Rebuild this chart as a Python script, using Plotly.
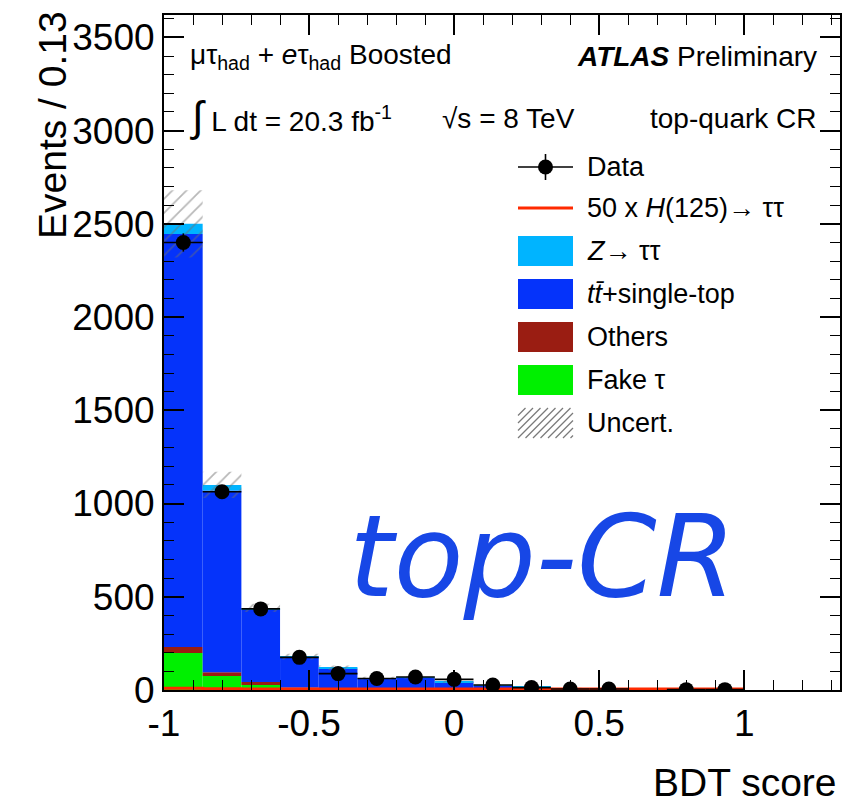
import numpy as np
import plotly.graph_objects as go

# ---------------- data ----------------
bin_edges = [-1.0, -0.8667, -0.7333, -0.6, -0.4667, -0.3333, -0.2, -0.0667,
             0.0667, 0.2, 0.3333, 0.4667, 0.6, 0.7333, 0.8667, 1.0]
fake = [199, 75, 27, 5, 3, 2, 2, 1, 1, 1, 0, 0, 0, 0, 0]
others = [32, 20, 16, 8, 6, 5, 5, 4, 3, 3, 2, 2, 1, 1, 1]
ttbar = [2215, 975, 390, 160, 105, 52, 58, 36, 18, 11, 6, 3, 2, 1, 1]
ztautau = [54, 30, 7, 6, 5, 4, 4, 4, 4, 2, 2, 1, 1, 0, 0]
signal50 = [9, 7, 6, 5, 5, 5, 5, 5, 5, 5, 5, 5, 5, 5, 5]
data = [2400, 1063, 435, 175, 88, 62, 70, 57, 27, 13, 5, 5, None, 2, 2]
uncert = [180, 70, 22, 15, 12, 8, 8, 6, 4, 3, 2, 2, 1, 1, 1]

x_tickvals = [-1, -0.5, 0, 0.5, 1]
x_ticktext = ["-1", "-0.5", "0", "0.5", "1"]
y_tickvals = [0, 500, 1000, 1500, 2000, 2500, 3000, 3500]
y_ticktext = ["0", "500", "1000", "1500", "2000", "2500", "3000", "3500"]

# ---------------- derived ----------------
edges = np.array(bin_edges)
centers = 0.5 * (edges[:-1] + edges[1:])
widths = edges[1:] - edges[:-1]
halfw = widths / 2
f = np.array(fake, float)
o = np.array(others, float)
t = np.array(ttbar, float)
z = np.array(ztautau, float)
total = f + o + t + z
unc = np.array(uncert, float)
d = np.array([np.nan if v is None else v for v in data], float)

FONT = "Liberation Sans, Arial, Helvetica, sans-serif"
C_Z = "#00B4FF"
C_TT = "#0533FA"
C_OTH = "#9A1D12"
C_FAKE = "#00F000"
C_SIG = "#FF2A00"

fig = go.Figure()

def add_bar(vals, base, color):
    fig.add_trace(go.Bar(x=centers, y=vals, base=base, width=widths,
                         marker=dict(color=color, line=dict(width=0)),
                         showlegend=False, hoverinfo="skip"))

add_bar(f, np.zeros_like(f), C_FAKE)
add_bar(o, f, C_OTH)
add_bar(t, f + o, C_TT)
add_bar(z, f + o + t, C_Z)

# uncertainty band (hatched)
fig.add_trace(go.Bar(x=centers, y=2 * unc, base=total - unc, width=widths,
                     marker=dict(color="rgba(0,0,0,0)", line=dict(width=0),
                                 pattern=dict(shape="/", fgcolor="#6f6f6f",
                                              bgcolor="rgba(0,0,0,0)",
                                              size=10, solidity=0.17,
                                              fillmode="overlay")),
                     showlegend=False, hoverinfo="skip"))

# signal x50 as step line
sx = list(edges)
sy = list(signal50) + [signal50[-1]]
fig.add_trace(go.Scatter(x=sx, y=sy, mode="lines", line=dict(color=C_SIG, width=3, shape="hv"),
                         showlegend=False, hoverinfo="skip"))

# data
fig.add_trace(go.Scatter(x=centers, y=d, mode="markers",
                         marker=dict(color="black", size=15),
                         error_x=dict(type="data", array=halfw, color="black", thickness=1.6, width=0),
                         error_y=dict(type="data", array=np.sqrt(np.nan_to_num(d)), color="black",
                                      thickness=1.6, width=0),
                         showlegend=False, hoverinfo="skip"))

L, R, T, B = 164, 24, 15, 118
W, H = 864, 808
PW, PH = W - L - R, H - T - B

def px(x):
    return (x - L) / PW

def py(y):
    return (H - B - y) / PH

ann = []
def text(x, y, s, size, xanchor="left", yanchor="middle", color="black", **kw):
    ann.append(dict(x=px(x), y=py(y), xref="paper", yref="paper", text=s, showarrow=False,
                    xanchor=xanchor, yanchor=yanchor,
                    font=dict(family=FONT, size=size, color=color), **kw))

text(188, 57, "μτ<sub>had</sub> + <i>e</i>τ<sub>had</sub> Boosted", 28)
text(819, 57, "<b><i>ATLAS</i></b> Preliminary", 28, xanchor="right")
text(188, 116, "<span style='font-size:42px'>∫</span> L dt = 20.3 fb<sup>-1</sup>", 28)
text(440, 118, "√s = 8 TeV", 28)
text(819, 118, "top-quark CR", 28, xanchor="right")

# legend
leg_y = [167, 208, 251, 294, 337, 380, 423]
leg_txt = ["Data", "50 x <i>H</i>(125)→ ττ", "<i>Z</i>→ ττ", "<i>tt̄</i>+single-top",
           "Others", "Fake τ", "Uncert."]
for yy, s in zip(leg_y, leg_txt):
    text(585, yy, s, 27)

shapes = []
bx0, bx1 = px(518), px(573)
hh = 15 / PH
# data symbol
shapes.append(dict(type="line", xref="paper", yref="paper", x0=bx0, x1=bx1, y0=py(167), y1=py(167),
                   line=dict(color="black", width=1.6)))
shapes.append(dict(type="line", xref="paper", yref="paper", x0=px(545.5), x1=px(545.5),
                   y0=py(154), y1=py(180), line=dict(color="black", width=1.6)))
shapes.append(dict(type="circle", xref="paper", yref="paper", x0=px(538), x1=px(553),
                   y0=py(174.5), y1=py(159.5), fillcolor="black", line=dict(width=0)))
# signal
shapes.append(dict(type="line", xref="paper", yref="paper", x0=bx0, x1=bx1, y0=py(208), y1=py(208),
                   line=dict(color=C_SIG, width=3)))
for yy, c in zip(leg_y[2:6], [C_Z, C_TT, C_OTH, C_FAKE]):
    shapes.append(dict(type="rect", xref="paper", yref="paper", x0=bx0, x1=bx1,
                       y0=py(yy) - hh, y1=py(yy) + hh, fillcolor=c, line=dict(width=0)))
# hatched legend box
yy = leg_y[6]
for k in range(-4, 8):
    xa, xb = 518 + k * 7.5, 518 + k * 7.5 + 30
    ya, yb = yy + 15, yy - 15
    if xa < 518:
        ya = ya - (518 - xa)
        xa = 518
    if xb > 573:
        yb = yb + (xb - 573)
        xb = 573
    if xa >= xb:
        continue
    shapes.append(dict(type="line", xref="paper", yref="paper", x0=px(xa), x1=px(xb),
                       y0=py(ya), y1=py(yb), line=dict(color="#7a7a7a", width=1.3)))

# handwritten-style annotation
ann.append(dict(x=px(542), y=py(556), xref="paper", yref="paper", text="top-CR", showarrow=False,
                xanchor="center", yanchor="middle",
                font=dict(family="DejaVu Sans", size=114, color="#1747E6", style="italic")))

# axis titles
text(839, 782, "BDT score", 39, xanchor="right")
ann.append(dict(x=px(53), y=py(9), xref="paper", yref="paper", text="Events / 0.13", showarrow=False,
                xanchor="center", yanchor="top", textangle=-90,
                font=dict(family=FONT, size=39, color="black")))

fig.update_layout(
    width=W, height=H, margin=dict(l=L, r=R, t=T, b=B, pad=0),
    paper_bgcolor="white", plot_bgcolor="white",
    barmode="overlay", showlegend=False,
    annotations=ann, shapes=shapes,
    font=dict(family=FONT, color="black"),
)
fig.update_xaxes(range=[-1, 1.33], showgrid=False, zeroline=False,
                 showline=True, linecolor="black", linewidth=2, mirror="ticks",
                 ticks="inside", ticklen=20, tickwidth=1.6, tickcolor="black",
                 tickvals=x_tickvals, ticktext=x_ticktext,
                 tickfont=dict(family=FONT, size=37),
                 minor=dict(ticks="inside", dtick=0.1, tick0=0, ticklen=10, tickwidth=1.4,
                            tickcolor="black", showgrid=False))
fig.update_yaxes(range=[0, 3620], showgrid=False, zeroline=False,
                 showline=True, linecolor="black", linewidth=2, mirror="ticks",
                 ticks="inside", ticklen=20, tickwidth=1.6, tickcolor="black",
                 tickvals=y_tickvals, ticktext=y_ticktext,
                 tickfont=dict(family=FONT, size=37),
                 minor=dict(ticks="inside", dtick=100, tick0=0, ticklen=10, tickwidth=1.4,
                            tickcolor="black", showgrid=False))

fig.write_html("out.html")
